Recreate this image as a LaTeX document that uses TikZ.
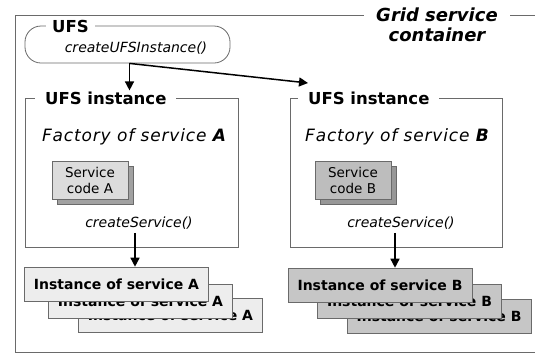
\documentclass[tikz,border=0pt]{standalone}
\usepackage{fontspec}
\setmainfont{DejaVu Sans}[ItalicFont={DejaVu Sans Oblique},BoldItalicFont={DejaVu Sans Bold Oblique}]
\usetikzlibrary{arrows.meta,positioning}

\definecolor{framegray}{HTML}{6A6A6A}
\definecolor{codeAfill}{HTML}{DCDCDC}
\definecolor{codeBfill}{HTML}{BDBDBD}
\definecolor{instAfill}{HTML}{EDEDED}
\definecolor{instBfill}{HTML}{C6C6C6}

\begin{document}
\begin{tikzpicture}[x=1pt, y=-1pt,
    frame/.style={draw=framegray, line width=0.8pt, inner sep=0pt},
    title/.style={fill=white, inner xsep=10pt, inner ysep=1pt, font=\fontsize{16.5}{19}\selectfont\bfseries},
    code/.style={draw=framegray, line width=0.6pt, minimum width=76pt, minimum height=38pt, align=center, inner sep=0pt, font=\fontsize{13.5}{16}\selectfont},
    inst/.style={draw=framegray, line width=0.6pt, minimum width=184pt, minimum height=34pt, inner sep=0pt, font=\fontsize{14}{16}\selectfont\bfseries},
    call/.style={font=\fontsize{14}{16}\selectfont\itshape},
    factory/.style={font=\fontsize{17}{20}\selectfont\itshape\addfontfeatures{LetterSpace=5}},
    arr/.style={-{Triangle[length=9pt,width=9pt]}, line width=1.5pt}
]
\useasboundingbox[fill=white] (0,0) rectangle (535,354);

\node[frame, minimum width=540pt, minimum height=337pt] (container) at (285,183.5) {};
\node[fill=white, inner xsep=12pt, inner ysep=1pt, align=center, font=\fontsize{18}{20}\selectfont\bfseries\itshape] (gridtitle) at (437,25) {Grid service\\container};

\node[frame, rounded corners=16pt, minimum width=205pt, minimum height=37pt] (ufs) at (127.5,44.5) {};
\node[title, inner xsep=6pt, anchor=west] (ufstitle) at (46,26) {UFS};
\node[call] (createufs) at (136,48) {createUFSInstance()};

\node[frame, minimum width=213pt, minimum height=149pt] (instframeA) at (131.5,172.5) {};
\node[title, anchor=west] (titleA) at (35,98) {UFS instance};
\node[frame, minimum width=212pt, minimum height=149pt] (instframeB) at (396,172.5) {};
\node[title, anchor=west] (titleB) at (298,98) {UFS instance};

\node[factory] (factA) at (134,137) {Factory of service \textbf{A}};
\node[factory] (factB) at (397,137) {Factory of service \textbf{B}};

\node[code, fill=codeBfill!85!black] (codeAback) at (95,185) {};
\node[code, fill=codeAfill] (codeA) at (90,180) {Service\\code A};
\node[code, fill=codeBfill!80!black] (codeBback) at (358,185) {};
\node[code, fill=codeBfill] (codeB) at (353,180) {Service\\code B};

\node[call] (csA) at (139,223) {createService()};
\node[call] (csB) at (401,223) {createService()};

\node[inst, fill=instAfill] (instA3) at (170.5,315.5) {Instance of service A};
\node[inst, fill=instAfill] (instA2) at (140.5,301) {Instance of service A};
\node[inst, fill=instAfill] (instA1) at (116.5,284) {Instance of service A};
\node[inst, fill=instBfill] (instB3) at (439,316.5) {Instance of service B};
\node[inst, fill=instBfill] (instB2) at (409.5,301.5) {Instance of service B};
\node[inst, fill=instBfill] (instB1) at (380,285) {Instance of service B};

\coordinate (hitB) at (308,83);
\draw[arr] ([xshift=2pt]ufs.south) -- (hitB);
\draw[arr] ([xshift=2pt]ufs.south) -- ([xshift=2pt]ufs.south |- titleA.north);
\draw[arr] ([xshift=-4pt]csA.south) -- ([xshift=-4pt]csA.south |- instA1.north);
\draw[arr] ([xshift=-6pt]csB.south) -- ([xshift=-6pt]csB.south |- instB1.north);
\end{tikzpicture}
\end{document}
